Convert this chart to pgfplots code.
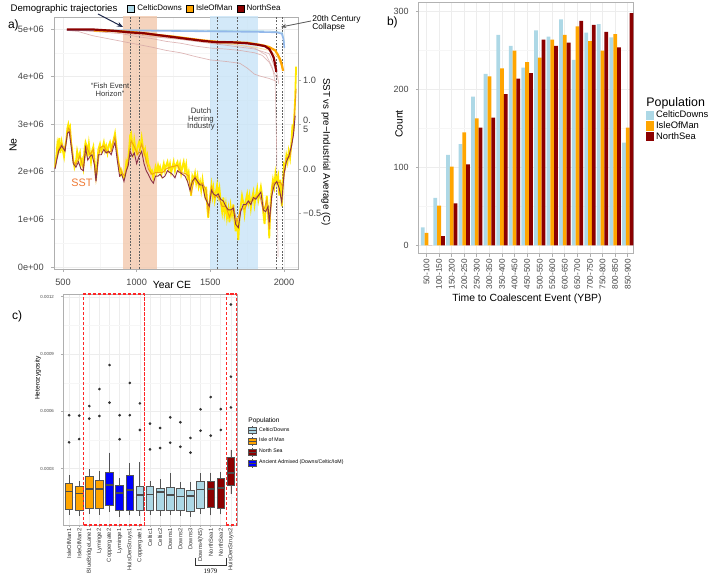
\documentclass[border=0pt]{standalone}
\usepackage{fontspec}
\setmainfont{Liberation Sans}
\newfontfamily\serif{Liberation Serif}
\usepackage{pgfplots}
\pgfplotsset{compat=1.18}
\usepgfplotslibrary{statistics}
\usetikzlibrary{arrows.meta}

\definecolor{celtic}{RGB}{173,216,230}
\definecolor{iom}{RGB}{255,165,0}
\definecolor{ns}{RGB}{139,0,0}
\definecolor{anc}{RGB}{0,0,255}
\definecolor{peach}{RGB}{242,200,172}
\definecolor{skyband}{RGB}{200,228,247}
\definecolor{sstyel}{RGB}{255,232,0}
\definecolor{sstorg}{RGB}{240,160,20}
\definecolor{sstmar}{RGB}{140,50,70}
\definecolor{txt}{RGB}{70,70,70}
\definecolor{frame}{RGB}{175,175,175}
\definecolor{boxedge}{RGB}{85,85,85}
\definecolor{sstlab}{RGB}{238,120,50}

\newcommand{\fs}[1]{\fontsize{#1}{#1}\selectfont}

\tikzset{vline/.style={gray!75!black, dash pattern=on 0.9pt off 0.7pt, line width=0.3pt},
  redbox/.style={red!85, dash pattern=on 1.6pt off 0.9pt, line width=0.55pt}}

\pgfplotsset{
  every axis/.append style={scale only axis, anchor=south west,
    /pgf/number format/assume math mode=true, /pgf/number format/1000 sep={},
    axis line style={frame, line width=0.4pt}, tick style={frame, line width=0.4pt},
    tick align=outside, major tick length=1.6pt, minor tick length=0pt,
    xtick pos=bottom, ytick pos=left, scaled ticks=false,
    major grid style={gray!14, line width=0.35pt}, minor grid style={gray!7, line width=0.25pt},
    ticklabel style={text=txt}},
  traj/.style={forget plot, line width=#1},
  bx/.style={forget plot, draw=boxedge, line width=0.4pt, mark=*, mark size=0.45pt,
    mark options={draw=black!80, fill=black!80}},
}

\begin{document}
\begin{tikzpicture}
\path[use as bounding box] (0pt,0pt) rectangle (354.5pt,-288.5pt);

% ---------- a) Ne trajectories
\begin{axis}[at={(27pt,-134.5pt)}, width=122pt, height=126pt,
  xmin=439, xmax=2095, ymin=-0.042e6, ymax=5.252e6,
  xtick={500,1000,1500,2000}, minor xtick={750,1250,1750},
  ytick={0,1e6,2e6,3e6,4e6,5e6}, minor ytick={0.5e6,1.5e6,2.5e6,3.5e6,4.5e6},
  yticklabels={0e+00,1e+06,2e+06,3e+06,4e+06,5e+06},
  grid=both, ticklabel style={font=\fs{4.6}},
  legend columns=3,
  legend style={at={(0.299,1.032)}, anchor=west, draw=none, fill=none, font=\fs{4.0},
    inner sep=0pt, nodes={inner sep=0.5pt},
    /tikz/every odd column/.append style={column sep=0.6pt},
    /tikz/every even column/.append style={column sep=1.6pt}},
  legend image code/.code={\fill[#1] (0pt,-1.8pt) rectangle (3.5pt,1.8pt);}]
\addlegendimage{fill=celtic}\addlegendentry{CelticDowns}
\addlegendimage{fill=iom}\addlegendentry{IsleOfMan}
\addlegendimage{fill=ns}\addlegendentry{NorthSea}

\fill[peach, opacity=0.8] (axis cs:907,-1e5) rectangle (axis cs:1138,6e6);
\fill[skyband, opacity=0.8] (axis cs:1498,-1e5) rectangle (axis cs:1824,6e6);
\draw[vline] (axis cs:955,-1e5) -- (axis cs:955,6e6);
\draw[vline] (axis cs:1016,-1e5) -- (axis cs:1016,6e6);
\draw[vline] (axis cs:1545,-1e5) -- (axis cs:1545,6e6);
\draw[vline] (axis cs:1681,-1e5) -- (axis cs:1681,6e6);
\draw[vline] (axis cs:1946,-1e5) -- (axis cs:1946,6e6);
\draw[vline] (axis cs:1987,-1e5) -- (axis cs:1987,6e6);

% faint replicate trajectories
\addplot[traj=0.35pt, color=ns!35, opacity=0.8] coordinates {(527,4.97e6)(600,4.95e6)(700,4.86e6)(800,4.80e6)(900,4.74e6)(1000,4.68e6)(1100,4.62e6)(1200,4.55e6)(1300,4.50e6)(1400,4.42e6)(1500,4.35e6)(1600,4.32e6)(1700,4.28e6)(1750,4.18e6)(1800,4.05e6)(1850,4.00e6)(1900,3.96e6)(1950,3.90e6)};
\addplot[traj=0.35pt, color=ns!35, opacity=0.8] coordinates {(527,4.99e6)(700,4.95e6)(900,4.90e6)(1000,4.84e6)(1100,4.80e6)(1200,4.74e6)(1300,4.70e6)(1400,4.64e6)(1500,4.60e6)(1600,4.58e6)(1700,4.55e6)(1800,4.50e6)(1850,4.45e6)(1900,4.30e6)(1930,4.10e6)(1950,3.98e6)};
\addplot[traj=0.35pt, color=ns!30, opacity=0.8] coordinates {(527,4.99e6)(800,4.96e6)(1000,4.90e6)(1200,4.82e6)(1400,4.76e6)(1550,4.70e6)(1700,4.66e6)(1800,4.60e6)(1880,4.45e6)(1920,4.20e6)(1940,3.90e6)(1950,2.50e6)(1955,1.00e6)(1960,0.20e6)};
\addplot[traj=0.35pt, color=ns!35, opacity=0.8] coordinates {(527,4.98e6)(900,4.93e6)(1000,4.88e6)(1100,4.84e6)(1300,4.78e6)(1500,4.70e6)(1600,4.66e6)(1700,4.62e6)(1800,4.58e6)(1900,4.48e6)(1950,4.10e6)(1965,3.85e6)};
\addplot[traj=0.35pt, color=iom!45, opacity=0.9] coordinates {(710,4.96e6)(900,4.93e6)(1100,4.88e6)(1300,4.80e6)(1500,4.72e6)(1650,4.68e6)(1800,4.62e6)(1900,4.55e6)(1960,4.40e6)(1990,4.15e6)};
\addplot[traj=0.35pt, color=celtic] coordinates {(900,4.98e6)(1500,4.97e6)(1900,4.96e6)(1990,4.93e6)(2005,4.70e6)};
% main trajectories
\addplot[traj=0.8pt, color=celtic!85!blue] coordinates {(527,4.98e6)(950,4.97e6)(1200,4.96e6)(1500,4.95e6)(1800,4.94e6)(1950,4.93e6)(1985,4.90e6)(1995,4.80e6)(2003,4.60e6)};
\addplot[traj=1.1pt, color=iom] coordinates {(710,4.97e6)(850,4.96e6)(950,4.94e6)(1050,4.91e6)(1150,4.87e6)(1250,4.84e6)(1350,4.80e6)(1450,4.76e6)(1550,4.73e6)(1650,4.72e6)(1750,4.71e6)(1850,4.66e6)(1900,4.62e6)(1940,4.55e6)(1960,4.45e6)(1975,4.35e6)(1985,4.25e6)(1994,4.12e6)};
\addplot[traj=1.1pt, color=ns] coordinates {(527,4.99e6)(700,4.99e6)(850,4.96e6)(950,4.93e6)(1050,4.91e6)(1150,4.87e6)(1250,4.83e6)(1350,4.79e6)(1450,4.75e6)(1550,4.72e6)(1650,4.72e6)(1750,4.70e6)(1820,4.67e6)(1870,4.64e6)(1900,4.58e6)(1915,4.50e6)(1930,4.40e6)(1940,4.25e6)(1948,4.10e6)};
\end{axis}

% ---------- a) SST on secondary axis
\begin{axis}[at={(27pt,-134.5pt)}, width=122pt, height=126pt,
  xmin=439, xmax=2095, ymin=-1.124, ymax=1.708,
  axis x line=none, axis y line*=right, ytick pos=right,
  ytick={-0.5,0,0.5,1}, yticklabels={−0.5,0.0,{0.\\5},1.0},
  yticklabel style={font=\fs{4.6}, align=left, inner sep=0.8pt}]
\addplot[color=sstyel, line width=0.9pt] coordinates {
(446,0.02)(455,0.15)(462,0.28)(468,0.22)(475,0.35)(482,0.18)(491,0.30)(500,0.20)(507,0.14)(514,0.25)
(522,0.32)(530,0.46)(536,0.50)(542,0.44)(548,0.47)(555,0.30)(562,0.22)(570,0.10)(578,0.02)(588,0.08)
(596,0.20)(605,0.12)(615,0.18)(622,0.05)(630,0.10)(638,0.02)(646,0.22)(653,0.30)(661,0.26)(668,0.14)
(676,0.28)(683,0.18)(690,0.08)(697,0.20)(706,0.25)(714,0.10)(724,-0.12)(732,0.05)(740,0.22)(751,0.28)
(760,0.20)(768,0.24)(777,0.30)(785,0.21)(793,0.26)(802,0.18)(810,0.26)(819,0.30)(827,0.22)(836,0.28)
(845,0.34)(853,0.40)(860,0.30)(868,0.18)(875,0.10)(884,-0.02)(891,-0.06)(898,-0.02)(906,-0.08)(914,-0.10)
(921,-0.06)(930,0.08)(937,0.04)(943,0.12)(950,0.25)(956,0.38)(962,0.40)(970,0.28)(977,0.20)(984,0.32)
(992,0.22)(1000,0.18)(1008,0.26)(1016,0.30)(1024,0.22)(1034,0.35)(1042,0.25)(1050,0.18)(1057,0.22)(1065,0.10)
(1072,0.15)(1079,0.06)(1088,0.02)(1096,-0.04)(1104,-0.02)(1113,-0.10)(1120,-0.05)(1128,0.02)(1136,-0.04)(1145,0.04)
(1152,-0.02)(1159,0.02)(1168,-0.06)(1176,0.00)(1184,0.06)(1192,-0.02)(1200,0.04)(1209,0.08)(1217,0.00)(1226,0.06)
(1234,-0.04)(1243,0.02)(1251,0.08)(1260,-0.02)(1268,0.05)(1277,0.08)(1285,0.00)(1294,0.06)(1302,-0.05)(1311,0.03)
(1319,0.08)(1328,-0.02)(1336,0.05)(1345,-0.10)(1353,-0.04)(1362,-0.20)(1370,-0.30)(1378,-0.08)(1387,-0.12)(1396,-0.05)
(1404,-0.16)(1413,-0.08)(1421,-0.20)(1430,-0.14)(1438,-0.24)(1447,-0.12)(1455,-0.22)(1464,-0.30)(1472,-0.20)(1480,-0.45)
(1486,-0.55)(1493,-0.40)(1500,-0.28)(1508,-0.18)(1515,-0.30)(1521,-0.22)(1530,-0.35)(1538,-0.26)(1546,-0.18)(1554,-0.30)
(1562,-0.22)(1570,-0.36)(1580,-0.48)(1588,-0.32)(1596,-0.50)(1605,-0.40)(1613,-0.55)(1622,-0.45)(1630,-0.60)(1638,-0.42)
(1647,-0.52)(1656,-0.40)(1664,-0.58)(1672,-0.70)(1680,-0.55)(1690,-0.80)(1698,-0.55)(1706,-0.42)(1715,-0.30)(1724,-0.38)
(1732,-0.50)(1741,-0.35)(1750,-0.28)(1758,-0.38)(1766,-0.30)(1775,-0.44)(1784,-0.32)(1792,-0.26)(1800,-0.40)(1809,-0.30)
(1818,-0.22)(1826,-0.35)(1834,-0.28)(1843,-0.20)(1852,-0.30)(1860,-0.50)(1868,-0.62)(1876,-0.45)(1883,-0.30)(1892,-0.48)
(1900,-0.78)(1908,-0.40)(1917,-0.22)(1925,-0.12)(1934,-0.20)(1942,-0.05)(1951,-0.15)(1960,-0.08)(1968,-0.30)(1976,-0.12)
(1985,-0.42)(1992,-0.18)(2000,0.05)(2008,0.02)(2016,0.15)(2024,0.08)(2032,0.20)(2041,0.12)(2050,0.30)(2058,0.50)
(2064,0.42)(2070,0.60)(2076,0.80)(2082,1.15)};
\addplot[color=sstorg, line width=0.45pt] coordinates {
(446,0.01)(470,0.22)(491,0.28)(514,0.22)(536,0.46)(548,0.44)(570,0.08)(588,0.05)(615,0.15)(638,0.00)
(661,0.25)(683,0.16)(706,0.22)(724,-0.13)(751,0.24)(777,0.26)(802,0.18)(827,0.20)(853,0.36)(875,0.08)
(898,-0.04)(921,-0.08)(943,0.08)(962,0.32)(984,0.25)(1008,0.16)(1034,0.28)(1057,0.14)(1079,0.00)(1104,-0.06)
(1128,-0.04)(1152,-0.04)(1176,-0.04)(1200,0.00)(1226,0.02)(1251,0.03)(1277,0.04)(1302,-0.04)(1328,-0.05)(1353,-0.08)
(1370,-0.28)(1396,-0.08)(1421,-0.18)(1447,-0.16)(1472,-0.24)(1486,-0.50)(1508,-0.20)(1530,-0.32)(1554,-0.30)(1580,-0.42)
(1605,-0.42)(1630,-0.54)(1656,-0.42)(1680,-0.60)(1706,-0.45)(1732,-0.45)(1758,-0.37)(1784,-0.36)(1809,-0.32)(1834,-0.28)
(1860,-0.48)(1883,-0.35)(1900,-0.68)(1925,-0.16)(1951,-0.15)(1976,-0.15)(1992,-0.20)(2016,0.12)(2041,0.14)(2064,0.40)(2082,0.90)};
\addplot[color=sstmar, line width=0.45pt] coordinates {
(446,0.00)(470,0.20)(491,0.26)(514,0.20)(530,0.40)(542,0.42)(555,0.26)(570,0.06)(588,0.02)(605,0.08)
(622,0.00)(638,-0.02)(653,0.24)(668,0.10)(683,0.14)(697,0.16)(714,0.04)(724,-0.14)(740,0.16)(760,0.16)
(777,0.22)(793,0.18)(810,0.20)(827,0.16)(845,0.26)(853,0.30)(868,0.10)(884,-0.08)(898,-0.06)(914,-0.14)
(930,-0.02)(943,0.04)(956,0.20)(970,0.14)(984,0.18)(1000,0.06)(1016,0.14)(1034,0.20)(1050,0.06)(1065,-0.02)
(1079,-0.06)(1096,-0.12)(1113,-0.16)(1128,-0.08)(1145,-0.08)(1159,-0.06)(1176,-0.10)(1192,-0.08)(1209,-0.02)(1226,-0.04)
(1243,-0.06)(1260,-0.10)(1277,-0.02)(1294,-0.04)(1311,-0.06)(1328,-0.08)(1345,-0.14)(1362,-0.24)(1378,-0.14)(1396,-0.10)
(1413,-0.14)(1430,-0.18)(1447,-0.18)(1464,-0.32)(1480,-0.38)(1493,-0.42)(1508,-0.24)(1521,-0.28)(1538,-0.30)(1554,-0.28)
(1570,-0.34)(1588,-0.36)(1605,-0.42)(1622,-0.46)(1638,-0.46)(1656,-0.44)(1672,-0.62)(1690,-0.66)(1706,-0.48)(1724,-0.40)
(1741,-0.40)(1758,-0.36)(1775,-0.40)(1792,-0.32)(1809,-0.34)(1826,-0.30)(1843,-0.26)(1860,-0.46)(1876,-0.48)(1892,-0.42)
(1900,-0.60)(1917,-0.30)(1934,-0.18)(1951,-0.14)(1968,-0.22)(1985,-0.38)(2000,-0.05)(2016,0.08)(2032,0.14)(2050,0.25)
(2064,0.38)(2076,0.60)};
\end{axis}

% ---------- b) coalescent counts
\begin{axis}[at={(209.5pt,-127pt)}, width=107.5pt, height=125.5pt,
  xmin=-0.6, xmax=16.5, ymin=-11, ymax=311,
  ybar, bar width=0.3,
  xtick={0,...,16},
  xticklabels={50-100,100-150,150-200,200-250,250-300,300-350,350-400,400-450,450-500,500-550,550-600,600-650,650-700,700-750,750-800,800-850,850-900},
  xticklabel style={rotate=90, anchor=east, font=\fs{4.1}, inner sep=0.8pt},
  ytick={0,100,200,300}, minor ytick={50,150,250}, yticklabel style={font=\fs{4.5}},
  grid=both, axis line style={gray!60, line width=0.5pt},
  legend style={at={(1.056,0.575)}, anchor=north west, draw=none, fill=none, font=\fs{4.7},
    inner sep=0pt, row sep=0pt, nodes={inner sep=0.25pt}, cells={anchor=west},
    /tikz/every odd column/.append style={column sep=1pt}},
  legend image code/.code={\fill[#1] (0pt,-2.2pt) rectangle (3.6pt,2.4pt);}]
\addplot[fill=celtic, draw=none, bar shift=-0.3] coordinates {(0,23)(1,61)(2,116)(3,130)(4,191)(5,220)(6,270)(7,256)(8,228)(9,276)(10,268)(11,290)(12,238)(13,273)(14,284)(15,267)(16,132)};
\addlegendentry{CelticDowns}
\addplot[fill=iom, draw=none, bar shift=0] coordinates {(0,16)(1,51)(2,101)(3,145)(4,163)(5,217)(6,227)(7,250)(8,235)(9,241)(10,264)(11,270)(12,281)(13,262)(14,250)(15,271)(16,151)};
\addlegendentry{IsleOfMan}
\addplot[fill=ns, draw=none, bar shift=0.3] coordinates {(0,0)(1,12)(2,54)(3,104)(4,151)(5,164)(6,194)(7,214)(8,221)(9,264)(10,256)(11,260)(12,288)(13,283)(14,274)(15,254)(16,298)};
\addlegendentry{NorthSea}
\end{axis}

% ---------- c) heterozygosity boxplots (values in units of 1e-4)
\begin{axis}[at={(31.5pt,-262.5pt)}, width=87pt, height=115.5pt,
  xmin=0.4, xmax=17.6, ymin=0.05, ymax=12.15,
  xtick={1,...,17},
  xticklabels={IsleOfMan1,IsleOfMan2,BlueBridgeLane1,Lyminge2,Coppergate2,Lyminge1,HuisDenStruys1,Coppergate1,Celtic1,Celtic2,Downs1,Downs2,Downs3,Downs4(NS),NorthSea1,NorthSea2,HuisDenStruys2},
  xticklabel style={rotate=90, anchor=east, font=\fs{2.9}, inner sep=0.6pt, text=black!80},
  ytick={3,6,9,12}, yticklabels={0.0003,0.0006,0.0009,0.0012},
  minor ytick={1.5,4.5,7.5,10.5}, yticklabel style={font=\fs{2.2}},
  grid=both, clip=false, major tick length=1pt,
  boxplot/draw direction=y,
  boxplot/box extend=0.75, boxplot/whisker extend=0,
  boxplot/every median/.style={draw=black!70, line width=0.8pt},
  legend style={at={(1.063,0.43)}, anchor=north west, draw=none, fill=none, font=\fs{2.6},
    inner sep=0pt, row sep=0.7pt, nodes={inner sep=0.4pt}, cells={anchor=west},
    /tikz/every odd column/.append style={column sep=0.6pt}},
  legend image code/.code={\filldraw[#1, draw=boxedge, line width=0.3pt] (0pt,-1.5pt) rectangle (4pt,1.5pt);
    \draw[black!70, line width=0.4pt] (0pt,0pt) -- (4pt,0pt);
    \draw[boxedge, line width=0.3pt] (2pt,1.5pt) -- (2pt,2.2pt) (2pt,-1.5pt) -- (2pt,-2.2pt);}]
\addlegendimage{fill=celtic}\addlegendentry{Celtic/Downs}
\addlegendimage{fill=iom}\addlegendentry{Isle of Man}
\addlegendimage{fill=ns}\addlegendentry{North Sea}
\addlegendimage{fill=anc}\addlegendentry{Ancient Admixed (Downs/Celtic/IoM)}

\addplot[bx, fill=iom, boxplot prepared={draw position=1, lower whisker=0.58, lower quartile=0.87, median=1.80, upper quartile=2.23, upper whisker=2.67}] coordinates {(0,5.80)(0,4.38)};
\addplot[bx, fill=iom, boxplot prepared={draw position=2, lower whisker=0.52, lower quartile=0.84, median=1.71, upper quartile=2.06, upper whisker=2.37}] coordinates {(0,5.78)(0,4.55)};
\addplot[bx, fill=iom, boxplot prepared={draw position=3, lower whisker=0.63, lower quartile=0.92, median=1.95, upper quartile=2.58, upper whisker=2.98}] coordinates {(0,6.28)(0,5.62)};
\addplot[bx, fill=iom, boxplot prepared={draw position=4, lower whisker=0.59, lower quartile=0.91, median=1.92, upper quartile=2.39, upper whisker=2.90}] coordinates {(0,7.17)(0,5.76)};
\addplot[bx, fill=anc, boxplot prepared={draw position=5, lower whisker=0.75, lower quartile=1.10, median=2.16, upper quartile=2.79, upper whisker=3.84}] coordinates {(0,8.43)(0,6.46)};
\addplot[bx, fill=anc, boxplot prepared={draw position=6, lower whisker=0.49, lower quartile=0.79, median=1.73, upper quartile=2.11, upper whisker=2.51}] coordinates {(0,5.80)(0,4.54)};
\addplot[bx, fill=anc, boxplot prepared={draw position=7, lower whisker=0.56, lower quartile=0.84, median=1.88, upper quartile=2.65, upper whisker=3.28}] coordinates {(0,7.49)(0,5.80)};
\addplot[bx, fill=celtic, boxplot prepared={draw position=8, lower whisker=0.54, lower quartile=0.80, median=1.62, upper quartile=2.06, upper whisker=3.37}] coordinates {(0,6.42)(0,5.03)};
\addplot[bx, fill=celtic, boxplot prepared={draw position=9, lower whisker=0.56, lower quartile=0.84, median=1.64, upper quartile=2.06, upper whisker=2.36}] coordinates {(0,5.36)(0,4.01)};
\addplot[bx, fill=celtic, boxplot prepared={draw position=10, lower whisker=0.51, lower quartile=0.82, median=1.78, upper quartile=1.99, upper whisker=2.44}] coordinates {(0,5.13)(0,4.08)};
\addplot[bx, fill=celtic, boxplot prepared={draw position=11, lower whisker=0.56, lower quartile=0.82, median=1.61, upper quartile=2.04, upper whisker=2.79}] coordinates {(0,5.69)(0,4.36)};
\addplot[bx, fill=celtic, boxplot prepared={draw position=12, lower whisker=0.54, lower quartile=0.80, median=1.55, upper quartile=1.97, upper whisker=2.30}] coordinates {(0,5.43)(0,4.15)};
\addplot[bx, fill=celtic, boxplot prepared={draw position=13, lower whisker=0.49, lower quartile=0.75, median=1.57, upper quartile=1.87, upper whisker=2.32}] coordinates {(0,4.61)(0,3.84)};
\addplot[bx, fill=celtic, boxplot prepared={draw position=14, lower whisker=0.61, lower quartile=0.91, median=1.90, upper quartile=2.34, upper whisker=2.76}] coordinates {(0,6.11)(0,4.99)};
\addplot[bx, fill=ns, boxplot prepared={draw position=15, lower whisker=0.56, lower quartile=0.98, median=1.95, upper quartile=2.34, upper whisker=2.79}] coordinates {(0,6.75)(0,4.73)};
\addplot[bx, fill=ns, boxplot prepared={draw position=16, lower whisker=0.61, lower quartile=0.92, median=1.99, upper quartile=2.48, upper whisker=2.83}] coordinates {(0,6.12)(0,5.03)};
\addplot[bx, fill=ns, boxplot prepared={draw position=17, lower whisker=1.68, lower quartile=2.13, median=2.76, upper quartile=3.58, upper whisker=3.98}] coordinates {(0,11.6)(0,7.82)(0,6.21)};

\draw[redbox] (axis cs:2.47,0.05) rectangle (axis cs:8.46,12.15);
\draw[redbox] (axis cs:16.55,0.05) rectangle (axis cs:17.56,12.15);
\end{axis}

% ---------- annotations (pixel grid of the reference)
\begin{scope}[x=0.5pt, y=-0.5pt]
\node[font=\fs{6}, anchor=west] at (1,25) {a)};
\node[font=\fs{6}, anchor=west] at (380,22) {b)};
\node[font=\fs{6}, anchor=west] at (5,316) {c)};
\node[font=\fs{5.2}, rotate=90] at (13,145) {Ne};
\node[font=\fs{5.2}] at (172,285) {Year CE};
\node[font=\fs{4.85}, rotate=-90] at (326,152) {SST vs pre−Industrial Average (C)};
\node[font=\fs{4.8}] at (64,9) {Demographic trajectories};
\draw[-{Stealth[length=3pt,width=2.4pt]}, color={rgb,255:red,30;green,40;blue,75}, line width=0.5pt] (98,14) -- (123,27);
\node[font=\fs{4.2}, align=left, anchor=north west, inner sep=0pt] at (312,15) {\fontsize{4.2}{5.4}\selectfont 20th Century\\Collapse};
\draw[-{Stealth[length=2.6pt,width=2pt]}, gray!70!black, line width=0.4pt] (311,21) -- (281,27);
\node[font=\fs{3.8}, align=center, text=black!80] at (110,90) {\fontsize{3.8}{4.7}\selectfont ``Fish Event\\Horizon''};
\node[font=\fs{3.9}, align=center, text=black!80] at (201,119) {\fontsize{3.9}{4.7}\selectfont Dutch\\Herring\\Industry};
\node[font=\fs{5.4}, text=sstlab] at (82,183) {SST};
\node[font=\fs{5.2}, rotate=90] at (399,124) {Count};
\node[font=\fs{5.2}] at (527,299) {Time to Coalescent Event (YBP)};
\node[font=\fs{6.2}, anchor=west, inner sep=0pt] at (646,103) {Population};
\node[font=\fs{3.3}, rotate=90] at (38,378) {Heterozygosity};
\node[font=\fs{3.3}, anchor=west, inner sep=0pt] at (248,421) {Population};
\draw[black!80, line width=0.4pt] (195,558) -- (195,565) -- (226,565) -- (226,558);
\node[font=\serif\fs{3.4}, inner sep=0pt] at (210.5,571) {1979};
\end{scope}
\end{tikzpicture}
\end{document}
